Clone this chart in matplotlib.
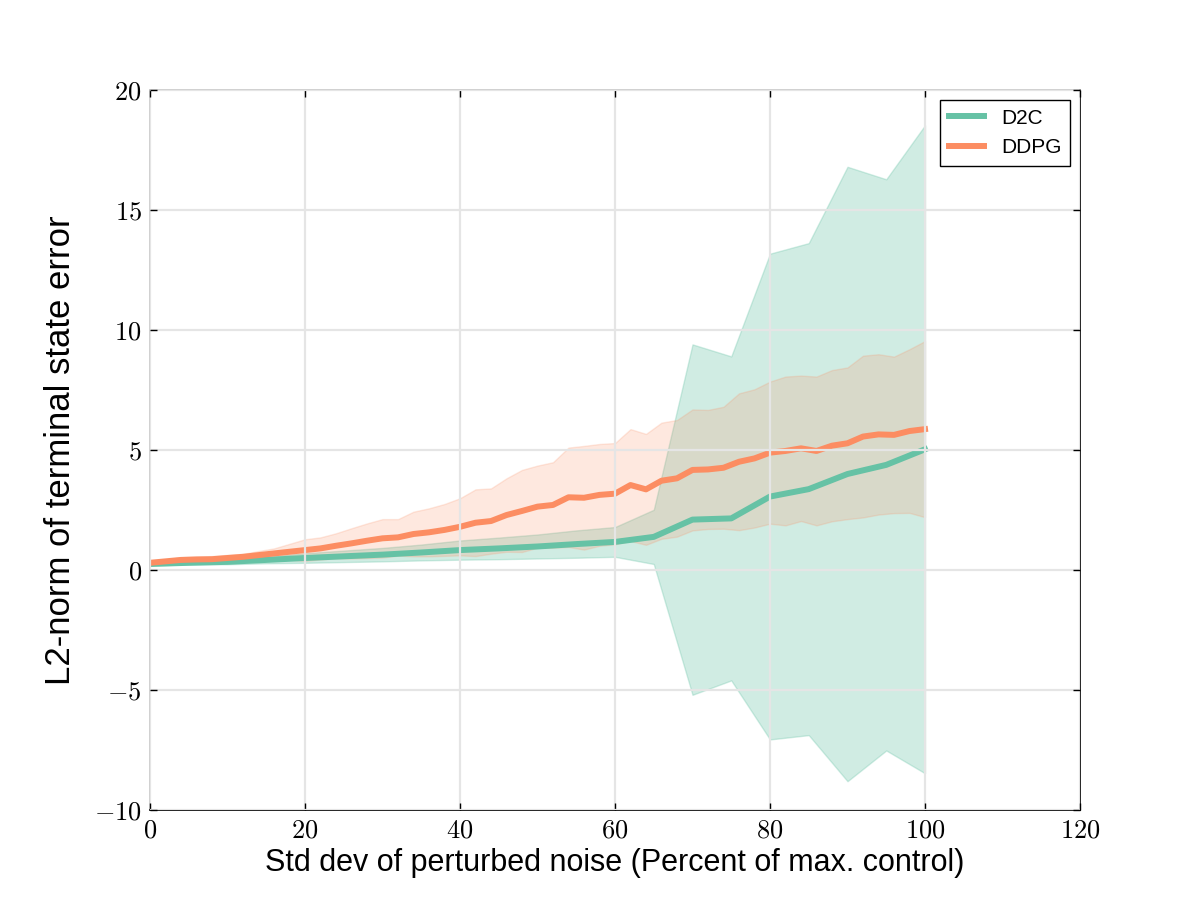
import matplotlib
matplotlib.use('Agg')
import matplotlib.pyplot as plt
from matplotlib.ticker import FuncFormatter
import numpy as np

# D2C, sampled every 5 % of max control
d2c_x = [0, 5, 10, 15, 20, 25, 30, 35, 40, 45, 50, 55, 60, 65, 70, 75, 80, 85, 90, 95, 100]
d2c_mean = [0.25, 0.3, 0.34, 0.42, 0.5, 0.57, 0.64, 0.73, 0.83, 0.9, 0.98, 1.08, 1.17,
            1.38, 2.1, 2.15, 3.06, 3.37, 4.0, 4.38, 5.03]
d2c_std = [0.05, 0.07, 0.1, 0.14, 0.2, 0.24, 0.28, 0.33, 0.4, 0.45, 0.5, 0.57, 0.62,
           1.13, 7.3, 6.75, 10.12, 10.25, 12.8, 11.9, 13.5]

# DDPG, sampled every 2 %
ddpg_x = list(range(0, 101, 2))
ddpg_mean = [0.3, 0.36, 0.42, 0.44, 0.45, 0.5, 0.55, 0.62, 0.69, 0.76, 0.83, 0.9, 1.01,
             1.11, 1.22, 1.32, 1.36, 1.5, 1.57, 1.67, 1.8, 1.97, 2.04, 2.29, 2.46, 2.64,
             2.71, 3.03, 3.01, 3.13, 3.18, 3.54, 3.36, 3.72, 3.82, 4.17, 4.19, 4.26, 4.51,
             4.65, 4.89, 4.96, 5.07, 4.96, 5.18, 5.28, 5.56, 5.65, 5.63, 5.79, 5.87]
ddpg_std = [0.05, 0.08, 0.11, 0.12, 0.13, 0.13, 0.12, 0.17, 0.21, 0.33, 0.45, 0.46, 0.52,
            0.63, 0.72, 0.8, 0.76, 0.93, 1.0, 1.08, 1.19, 1.39, 1.36, 1.53, 1.71, 1.71,
            1.78, 2.07, 2.16, 2.12, 2.11, 2.33, 2.31, 2.42, 2.43, 2.52, 2.48, 2.54, 2.85,
            2.88, 2.96, 3.1, 3.03, 3.1, 3.15, 3.16, 3.37, 3.34, 3.26, 3.41, 3.67]

x_ticks = [0, 20, 40, 60, 80, 100, 120]
y_ticks = [-10, -5, 0, 5, 10, 15, 20]

GREEN = '#66c2a5'
ORANGE = '#fc8d62'

plt.rcParams['font.family'] = ['Liberation Sans', 'DejaVu Sans']
plt.rcParams['mathtext.fontset'] = 'cm'

fig = plt.figure(figsize=(12, 9), dpi=100)
ax = fig.add_axes([0.125, 0.1, 0.775, 0.8])


def plot_band(ax, x, mean, std, color, alpha):
    """mean +/- std shaded band"""
    x = np.array(x)
    mean = np.array(mean)
    std = np.array(std)
    ax.fill_between(x, mean - std, mean + std, color=color, alpha=alpha, lw=1, zorder=1)


plot_band(ax, d2c_x, d2c_mean, d2c_std, GREEN, 0.3)
plot_band(ax, ddpg_x, ddpg_mean, ddpg_std, ORANGE, 0.2)
ax.plot(d2c_x, d2c_mean, color=GREEN, lw=4.3, label='D2C', zorder=2)
ax.plot(ddpg_x, ddpg_mean, color=ORANGE, lw=4.3, label='DDPG', zorder=2)

ax.set_xlim(0, 120)
ax.set_ylim(-10, 20)
ax.set_xticks(x_ticks)
ax.set_yticks(y_ticks)
fmt = FuncFormatter(lambda v, pos: r'$%d$' % v)
ax.xaxis.set_major_formatter(fmt)
ax.yaxis.set_major_formatter(fmt)
ax.tick_params(direction='in', length=5, width=1, top=True, right=True,
               labelsize=19, pad=6)

# grid sits on top of the bands, like the old default style
ax.set_axisbelow(False)
ax.grid(True, color='#e5e5e5', lw=1.6, zorder=2.5)

for side in ['left', 'top']:
    ax.spines[side].set_color('#c8c8c8')
for side in ['right', 'bottom']:
    ax.spines[side].set_color('black')
for sp in ax.spines.values():
    sp.set_linewidth(1.2)

ax.set_xlabel('Std dev of perturbed noise (Percent of max. control)', fontsize=22, labelpad=4)
ax.set_ylabel('L2-norm of terminal state error', fontsize=25, labelpad=12)

leg = ax.legend(loc='upper right', fontsize=15, fancybox=False, framealpha=1,
                edgecolor='black', handlelength=1.7)
leg.get_frame().set_linewidth(1.0)

fig.savefig('out.png', dpi=100)
